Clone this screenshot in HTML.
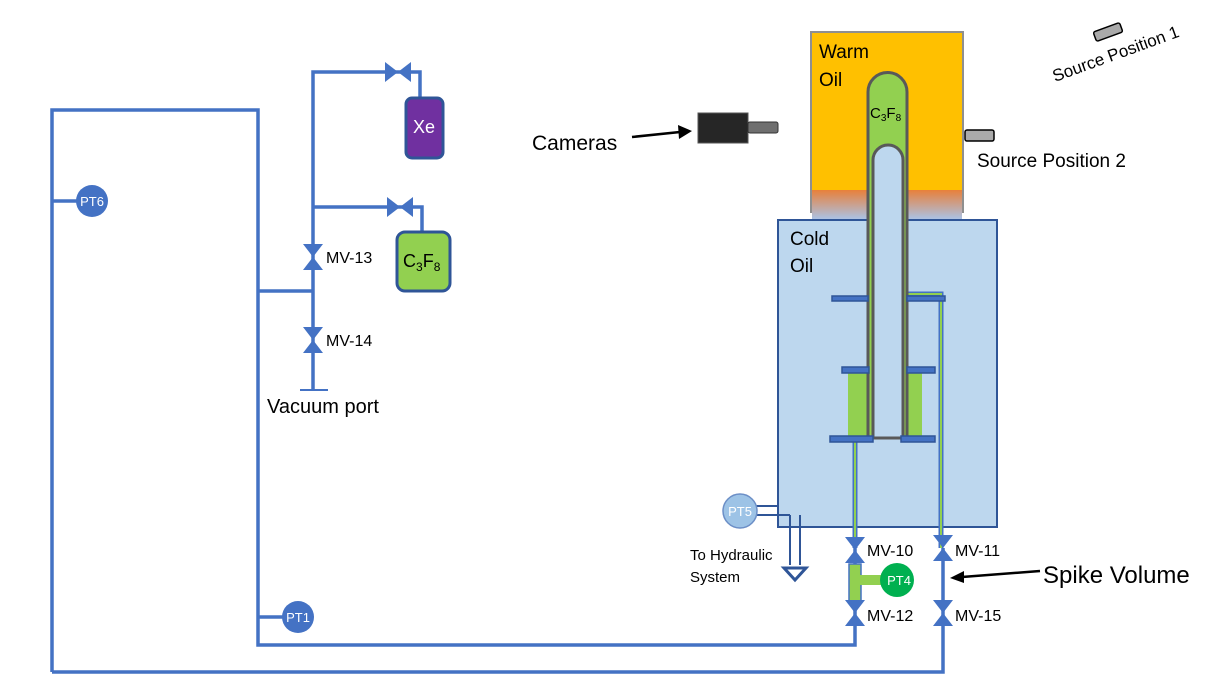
<!DOCTYPE html>
<html><head><meta charset="utf-8"><style>
html,body{margin:0;padding:0;background:#fff;}
svg{display:block;font-family:"Liberation Sans",sans-serif;}
</style></head><body>
<svg width="1220" height="686" viewBox="0 0 1220 686" xmlns="http://www.w3.org/2000/svg">
<defs>
<linearGradient id="g1" x1="0" y1="0" x2="0" y2="1">
<stop offset="0" stop-color="#e8803a"/><stop offset="1" stop-color="#a9c4ea"/>
</linearGradient>
<g id="vv"><polygon points="-10,-13 10,-13 0,0" fill="#4472c4"/><polygon points="-10,13 10,13 0,0" fill="#4472c4"/></g>
<g id="hv"><polygon points="-13,-10 -13,10 0,0" fill="#4472c4"/><polygon points="13,-10 13,10 0,0" fill="#4472c4"/></g>
</defs>
<g fill="none" stroke="#4472c4" stroke-width="3.5">
<polyline points="52,672 52,110 258,110 258,645 855,645 855,613"/>
<polyline points="52,672 943,672 943,613"/>
<line x1="52" y1="201" x2="78" y2="201"/>
<line x1="258" y1="617" x2="284" y2="617"/>
<line x1="258" y1="291" x2="313" y2="291"/>
<polyline points="313,390 313,72 420,72 420,98"/>
<polyline points="313,207 422,207 422,232"/>
<line x1="300" y1="390" x2="328" y2="390" stroke-width="2"/>
<line x1="855" y1="548" x2="855" y2="613"/>
<line x1="943" y1="548" x2="943" y2="613"/>
</g>
<use href="#hv" x="398" y="72"/>
<use href="#hv" x="400" y="207"/>
<use href="#vv" x="313" y="257"/>
<use href="#vv" x="313" y="340"/>
<rect x="406" y="98" width="37" height="60" rx="6" fill="#7030a0" stroke="#2f5597" stroke-width="3"/>
<text x="424" y="133" fill="#fff" font-size="18" text-anchor="middle">Xe</text>
<rect x="397" y="232" width="53" height="59" rx="8" fill="#92d050" stroke="#2f5597" stroke-width="3"/>
<text x="403" y="267" font-size="18">C<tspan font-size="12" dy="4">3</tspan><tspan dy="-4">F</tspan><tspan font-size="12" dy="4">8</tspan></text>
<circle cx="92" cy="201" r="16" fill="#4472c4"/><text x="92" y="206" fill="#fff" font-size="13" text-anchor="middle">PT6</text>
<circle cx="298" cy="617" r="16" fill="#4472c4"/><text x="298" y="622" fill="#fff" font-size="13" text-anchor="middle">PT1</text>
<text x="326" y="263" font-size="16">MV-13</text>
<text x="326" y="346" font-size="16">MV-14</text>
<text x="267" y="413" font-size="20">Vacuum port</text>
<!-- warm oil -->
<rect x="811" y="32" width="152" height="180" fill="#ffc000" stroke="#8f8f8f" stroke-width="2"/>
<rect x="812" y="190" width="150" height="30" fill="url(#g1)"/>
<text x="819" y="58" font-size="19">Warm</text><text x="819" y="86" font-size="19">Oil</text>
<!-- cold oil -->
<rect x="778" y="220" width="219" height="307" fill="#bdd7ee" stroke="#2f5597" stroke-width="2"/>
<text x="790" y="245" font-size="19">Cold</text><text x="790" y="272" font-size="19">Oil</text>
<!-- green lines -->
<g fill="none">
<polyline points="905,294 941,294 941,548" stroke="#4472c4" stroke-width="5"/>
<polyline points="905,294 941,294 941,548" stroke="#92d050" stroke-width="2"/>
<line x1="855" y1="438" x2="855" y2="548" stroke="#4472c4" stroke-width="5"/>
<line x1="855" y1="438" x2="855" y2="548" stroke="#92d050" stroke-width="2"/>
</g>
<rect x="848" y="370" width="20" height="68" fill="#92d050"/>
<rect x="905" y="370" width="17" height="68" fill="#92d050"/>
<!-- tube -->
<path d="M868,438 L868,92 A19,19 0 0 1 907,92 L907,438" fill="#92d050" stroke="#595959" stroke-width="3"/>
<path d="M873,438 L873,160 A15,15 0 0 1 903,160 L903,438 Z" fill="#bdd7ee" stroke="#595959" stroke-width="3"/>
<text x="870" y="118" font-size="15">C<tspan font-size="10" dy="3">3</tspan><tspan dy="-3">F</tspan><tspan font-size="10" dy="3">8</tspan></text>
<g fill="#4472c4" stroke="#2f5597" stroke-width="1.5">
<rect x="832" y="296" width="36" height="5"/><rect x="907" y="296" width="38" height="5"/>
<rect x="842" y="367" width="27" height="6"/><rect x="907" y="367" width="28" height="6"/>
<rect x="830" y="436" width="43" height="6"/><rect x="901" y="436" width="34" height="6"/>
</g>
<!-- PT5 & hydraulic -->
<path d="M756,506 L778,506 L778,520 M756,515 L790,515 M800,515 L800,565 M790,515 L790,565" fill="none" stroke="#2f5597" stroke-width="2"/>
<polygon points="784,568 806,568 795,580" fill="#fff" stroke="#2f5597" stroke-width="3"/>
<circle cx="740" cy="511" r="17" fill="#9dc3e6" stroke="#6c8fc7" stroke-width="1.5"/>
<text x="740" y="516" fill="#fff" font-size="13" text-anchor="middle">PT5</text>
<text x="690" y="560" font-size="15">To Hydraulic</text>
<text x="690" y="582" font-size="15">System</text>
<!-- valves right -->
<rect x="849" y="564" width="12" height="37" fill="#92d050" stroke="#4472c4" stroke-width="1.5"/>
<rect x="860" y="575" width="24" height="10" fill="#92d050"/>
<use href="#vv" x="855" y="550"/><use href="#vv" x="855" y="613"/>
<use href="#vv" x="943" y="548"/><use href="#vv" x="943" y="613"/>
<circle cx="897" cy="580" r="17" fill="#00b050"/><text x="899" y="585" fill="#fff" font-size="13" text-anchor="middle">PT4</text>
<text x="867" y="556" font-size="16">MV-10</text><text x="867" y="621" font-size="16">MV-12</text>
<text x="955" y="556" font-size="16">MV-11</text><text x="955" y="621" font-size="16">MV-15</text>
<line x1="1040" y1="571" x2="962" y2="577" stroke="#000" stroke-width="2.5"/>
<polygon points="950,578 964,571 964,583" fill="#000"/>
<text x="1043" y="583" font-size="24">Spike Volume</text>
<!-- cameras -->
<text x="532" y="150" font-size="21">Cameras</text>
<line x1="632" y1="137" x2="680" y2="132" stroke="#000" stroke-width="2.5"/>
<polygon points="692,131 678,125 679,139" fill="#000"/>
<rect x="698" y="113" width="50" height="30" fill="#262626" stroke="#555" stroke-width="1"/>
<rect x="748" y="122" width="30" height="11" rx="2" fill="#6f6f6f" stroke="#333" stroke-width="1"/>
<!-- sources -->
<rect x="965" y="130" width="29" height="11" rx="2" fill="#aaa" stroke="#000" stroke-width="1.5"/>
<text x="977" y="167" font-size="19">Source Position 2</text>
<g transform="rotate(-20 1108 32)"><rect x="1094" y="27" width="28" height="10" rx="2" fill="#aaa" stroke="#000" stroke-width="1.5"/></g>
<text x="1055" y="82" font-size="17" transform="rotate(-20 1055 82)">Source Position 1</text>
</svg>
</body></html>
